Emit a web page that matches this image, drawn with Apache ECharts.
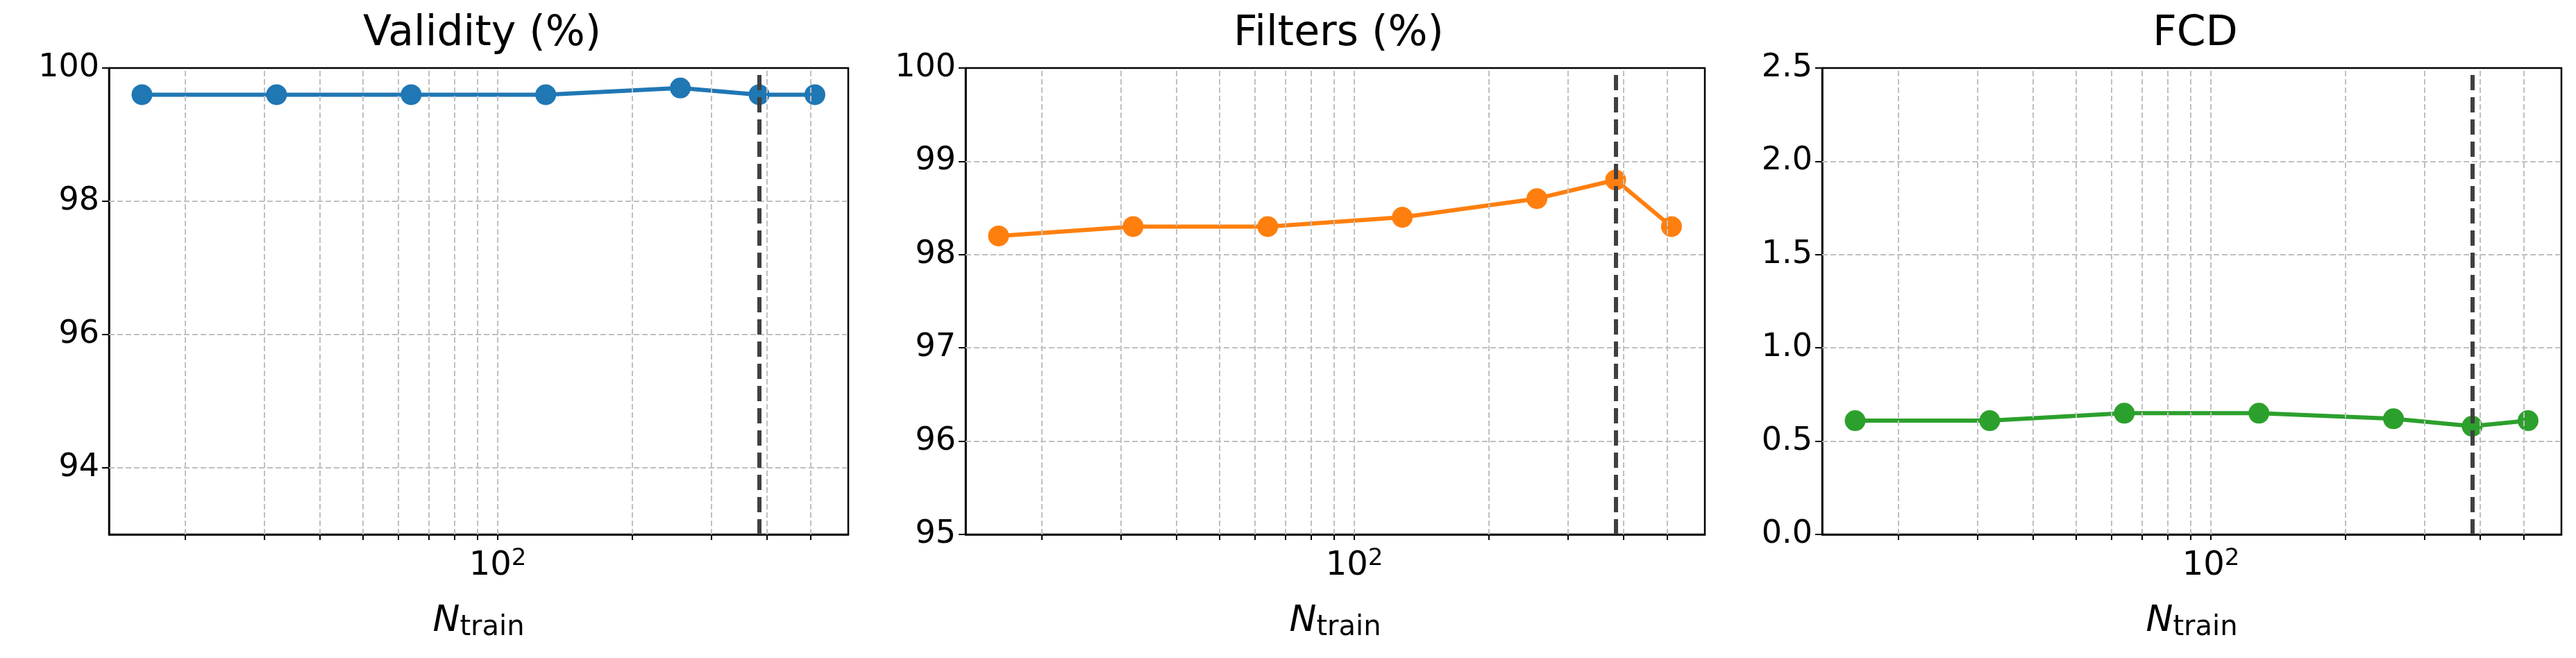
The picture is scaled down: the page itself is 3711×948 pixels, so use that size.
<!DOCTYPE html>
<html><head><meta charset="utf-8">
<script src="https://cdn.jsdelivr.net/npm/echarts@6/dist/echarts.min.js"></script>
<style>html,body{margin:0;padding:0;background:#fff}#c{width:3711px;height:948px}</style>
</head><body><div id="c"></div>
<script>
const nTrain = [16, 32, 64, 128, 256, 384, 512];
const validity = [99.6, 99.6, 99.6, 99.6, 99.7, 99.6, 99.6];
const filters = [98.2, 98.3, 98.3, 98.4, 98.6, 98.8, 98.3];
const fcd = [0.61, 0.61, 0.65, 0.65, 0.62, 0.58, 0.61];
const titles = ['Validity (%)', 'Filters (%)', 'FCD'];
const xGridVals = [20, 30, 40, 50, 60, 70, 80, 90, 100, 200, 300, 400, 500];
const xLabelVals = [100];
const refLine = 384;
const yTicks = [[94, 96, 98, 100], [95, 96, 97, 98, 99, 100], [0, 0.5, 1.0, 1.5, 2.0, 2.5]];
const yRange = [[93, 100], [95, 100], [0, 2.5]];
const colors = ['#1f77b4', '#ff7f0e', '#2ca02c'];
const seriesVals = [validity, filters, fcd];

const F = 'DejaVu Sans';
const lefts = [157, 1391, 2625], W = 1065, TOP = 98, H = 672;
const opt = {animation: false, backgroundColor: '#fff', title: [], grid: [], xAxis: [], yAxis: [], series: []};
for (let i = 0; i < 3; i++) {
  opt.title.push({text: titles[i], left: lefts[i] + W / 2, textAlign: 'center', top: 14,
    textStyle: {fontFamily: F, fontSize: 60, fontWeight: 'normal', color: '#000'}});
  opt.grid.push({left: lefts[i], top: TOP, width: W, height: H, show: true, borderColor: '#000', borderWidth: 2.5, backgroundColor: 'transparent'});
  opt.xAxis.push({type: 'log', gridIndex: i, logBase: 10, min: 13.5, max: 608,
    axisLine: {lineStyle: {color: '#000', width: 2.5}},
    axisTick: {show: true, customValues: xGridVals, length: 8, lineStyle: {color: '#000', width: 2}},
    axisLabel: {customValues: xLabelVals, fontFamily: F, fontSize: 48, color: '#000', margin: 18,
      formatter: v => '{b|10}{s|2}', rich: {b: {fontFamily: F, fontSize: 48, color: '#000'}, s: {fontFamily: F, fontSize: 34, color: '#000', verticalAlign: 'top', padding: [0, 0, 22, 0]}}},
    splitLine: {show: false},
    name: '{i|N}{s|train}', nameLocation: 'middle', nameGap: 95,
    nameTextStyle: {rich: {i: {fontFamily: F, fontStyle: 'italic', fontSize: 52, color: '#000'}, s: {fontFamily: F, fontSize: 40, color: '#000', padding: [20, 0, 0, 0]}}}
  });
  opt.yAxis.push({type: 'value', gridIndex: i, min: yRange[i][0], max: yRange[i][1],
    axisLine: {show: true, lineStyle: {color: '#000', width: 2.5}},
    axisTick: {show: true, customValues: yTicks[i], length: 10, lineStyle: {color: '#000', width: 2}},
    axisLabel: {customValues: yTicks[i], fontFamily: F, fontSize: 46, color: '#000', margin: 14,
      formatter: v => i === 2 ? v.toFixed(1) : String(v)},
    splitLine: {show: false}
  });
  const gl = {type: 'dashed', color: '#c0c0c0', width: 2};
  opt.series.push({type: 'line', xAxisIndex: i, yAxisIndex: i, data: [], silent: true,
    markLine: {silent: true, symbol: 'none', label: {show: false}, lineStyle: gl, animation: false,
      data: xGridVals.map(v => ({xAxis: v})).concat(yTicks[i].filter(v => v !== yRange[i][1] && v !== yRange[i][0]).map(v => ({yAxis: v})))}});
  opt.series.push({type: 'line', xAxisIndex: i, yAxisIndex: i, z: 3,
    data: nTrain.map((x, k) => [x, seriesVals[i][k]]),
    symbol: 'circle', symbolSize: 30, lineStyle: {color: colors[i], width: 6}, itemStyle: {color: colors[i]}});
  opt.series.push({type: 'line', xAxisIndex: i, yAxisIndex: i, data: [], z: 5,
    markLine: {silent: true, symbol: 'none', label: {show: false}, z: 5,
      lineStyle: {type: [22, 10], color: '#404040', width: 6}, data: [{xAxis: refLine}]}});
}
echarts.init(document.getElementById('c')).setOption(opt);
</script></body></html>
